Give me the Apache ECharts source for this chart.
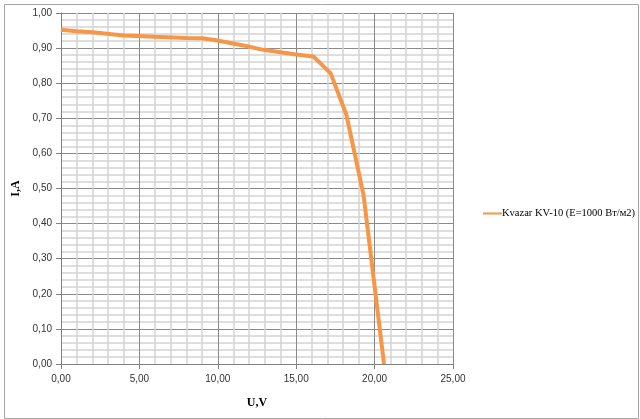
<!DOCTYPE html>
<html>
<head>
<meta charset="utf-8">
<script src="https://cdn.jsdelivr.net/npm/echarts@6/dist/echarts.min.js"></script>
<style>
html,body{margin:0;padding:0;background:#fff;}
#c{width:640px;height:419px;}
</style>
</head>
<body>
<div id="c"></div>
<script>
var seriesName = 'Kvazar KV-10 (E=1000 Вт/м2)';
var voltage = [0, 1, 2, 4, 6, 8, 9, 9.8, 11.8, 12.9, 15, 16.1, 17.2, 18.2, 19.3, 20.6];
var current = [0.952, 0.948, 0.945, 0.936, 0.932, 0.929, 0.928, 0.923, 0.906, 0.895, 0.882, 0.876, 0.828, 0.710, 0.480, 0.000];
var xTitle = 'U,V';
var yTitle = 'I,A';

var points = voltage.map(function (u, i) { return [u, current[i]]; });
function fmt(v) { return v.toFixed(2).replace('.', ','); }

var chart = echarts.init(document.getElementById('c'), null, {renderer: 'canvas'});
chart.setOption({
  animation: false,
  backgroundColor: '#fff',
  grid: {left: 61, top: 13, right: 187, bottom: 55, containLabel: false},
  graphic: [{
    type: 'rect', left: 2, top: 2, silent: true,
    shape: {width: 634, height: 414},
    style: {fill: 'none', stroke: '#a6a6a6', lineWidth: 1}
  }],
  legend: {
    data: [seriesName],
    left: 478, top: 203,
    icon: 'rect', itemWidth: 19, itemHeight: 2, itemGap: 0,
    textStyle: {fontFamily: 'Liberation Serif', fontSize: 10.5, color: '#000', padding: [0, 0, 0, -5]}
  },
  xAxis: {
    type: 'value', min: 0, max: 25, interval: 5,
    name: xTitle, nameLocation: 'middle', nameGap: 33,
    nameTextStyle: {fontFamily: 'Liberation Serif', fontWeight: 'bold', fontSize: 12, color: '#000'},
    axisLine: {show: true, onZero: false, lineStyle: {color: '#808080', width: 1}},
    axisTick: {show: true, inside: false, length: 5, lineStyle: {color: '#808080'}},
    axisLabel: {formatter: fmt, fontFamily: 'Liberation Sans', fontSize: 10, color: '#333', margin: 10},
    splitLine: {show: true, lineStyle: {color: '#8a8a8a', width: 1}},
    minorTick: {show: false, splitNumber: 5},
    minorSplitLine: {show: true, lineStyle: {color: '#d4d4d4', width: 1.5}}
  },
  yAxis: {
    type: 'value', min: 0, max: 1, interval: 0.1,
    name: yTitle, nameLocation: 'middle', nameGap: 38, nameRotate: 90,
    nameTextStyle: {fontFamily: 'Liberation Serif', fontWeight: 'bold', fontSize: 12, color: '#000'},
    axisLine: {show: true, onZero: false, lineStyle: {color: '#808080', width: 1}},
    axisTick: {show: true, inside: false, length: 5, lineStyle: {color: '#808080'}},
    axisLabel: {formatter: fmt, fontFamily: 'Liberation Sans', fontSize: 10, color: '#333', margin: 9},
    splitLine: {show: true, lineStyle: {color: '#8a8a8a', width: 1}},
    minorTick: {show: false, splitNumber: 5},
    minorSplitLine: {show: true, lineStyle: {color: '#d4d4d4', width: 1.5}}
  },
  series: [{
    name: seriesName,
    type: 'line',
    data: points,
    showSymbol: false,
    symbol: 'none',
    lineStyle: {color: '#F79646', width: 4},
    itemStyle: {color: '#F79646'}
  }]
});
</script>
</body>
</html>
